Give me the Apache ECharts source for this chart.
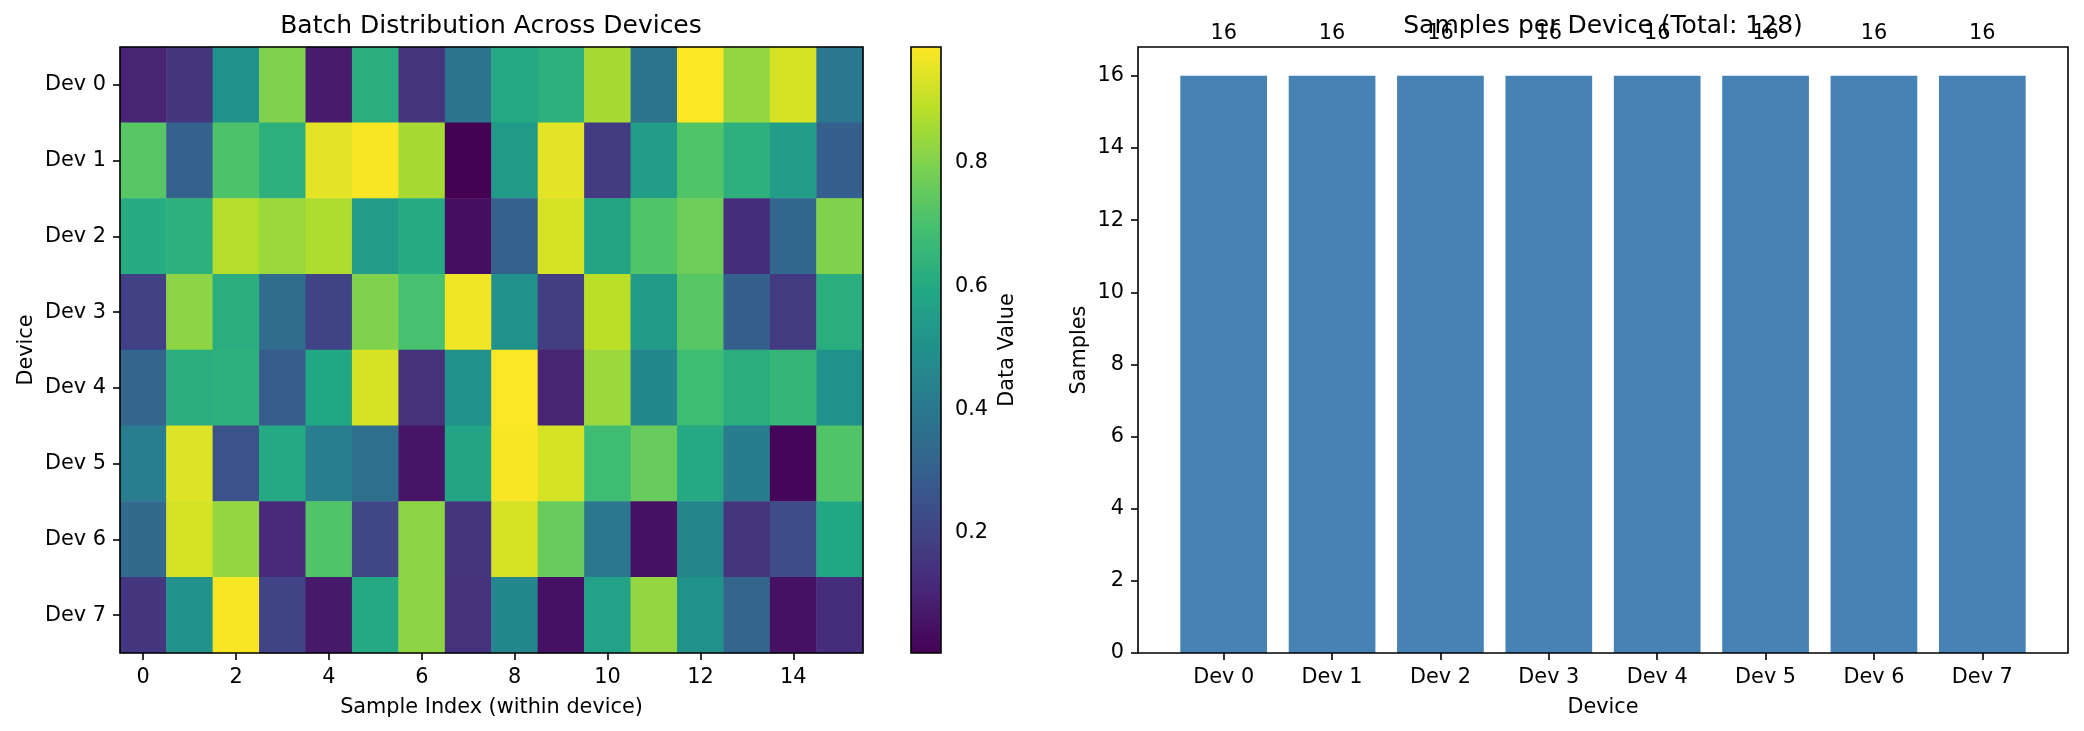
<!DOCTYPE html>
<html>
<head>
<meta charset="utf-8">
<script src="https://cdn.jsdelivr.net/npm/echarts@6/dist/echarts.min.js"></script>
<style>
html,body{margin:0;padding:0;background:#fff;}
#chart{width:2084px;height:731px;}
</style>
</head>
<body>
<div id="chart"></div>
<script>
// ---------- data ----------
const devices = ['Dev 0','Dev 1','Dev 2','Dev 3','Dev 4','Dev 5','Dev 6','Dev 7'];
const sampleIndex = ['0','1','2','3','4','5','6','7','8','9','10','11','12','13','14','15'];
const dev0 = [0.10,0.15,0.50,0.80,0.08,0.62,0.15,0.38,0.60,0.63,0.86,0.38,0.988,0.83,0.93,0.40];
const dev1 = [0.73,0.31,0.71,0.63,0.95,0.98,0.86,0.005,0.54,0.95,0.17,0.55,0.72,0.63,0.55,0.30];
const dev2 = [0.61,0.63,0.88,0.84,0.87,0.55,0.61,0.04,0.31,0.93,0.58,0.72,0.77,0.13,0.33,0.80];
const dev3 = [0.19,0.82,0.62,0.35,0.20,0.80,0.70,0.97,0.50,0.18,0.89,0.54,0.73,0.30,0.17,0.62];
const dev4 = [0.32,0.62,0.63,0.29,0.59,0.93,0.14,0.50,0.985,0.10,0.84,0.46,0.68,0.62,0.65,0.50];
const dev5 = [0.42,0.94,0.25,0.60,0.42,0.36,0.06,0.58,0.98,0.93,0.68,0.76,0.60,0.41,0.02,0.72];
const dev6 = [0.34,0.93,0.83,0.12,0.72,0.21,0.82,0.16,0.93,0.76,0.40,0.05,0.45,0.15,0.23,0.59];
const dev7 = [0.16,0.51,0.98,0.20,0.07,0.60,0.82,0.14,0.46,0.05,0.57,0.83,0.50,0.32,0.05,0.13];
const batchRows = [dev0,dev1,dev2,dev3,dev4,dev5,dev6,dev7];
const samplesPerDevice = [16,16,16,16,16,16,16,16];
const colorbarTicks = [0.2,0.4,0.6,0.8];
const barTicks = [0,2,4,6,8,10,12,14,16];
const valueMin = 0.005, valueMax = 0.988;

// ---------- build ----------
const viridis = ['#440154','#482576','#414487','#35608D','#2A788E','#21908C','#22A884','#43BF71','#7AD151','#BBDF27','#FDE725'];
const heatData = [];
batchRows.forEach((row, r) => row.forEach((v, c) => heatData.push([c, r, v])));
const total = samplesPerDevice.reduce((a, b) => a + b, 0);

const FONT = 'DejaVu Sans';
const FS = 20.8;
const txt = {fontFamily: FONT, fontSize: FS, color: '#000'};

const chart = echarts.init(document.getElementById('chart'), null, {renderer: 'canvas'});
chart.setOption({
  backgroundColor: '#fff',
  animation: false,
  textStyle: {fontFamily: FONT},
  title: [
    {text: 'Batch Distribution Across Devices', left: 491, top: 14, textAlign: 'center', padding: 0,
     textStyle: {fontFamily: FONT, fontSize: 25, fontWeight: 'normal', color: '#000'}},
    {text: 'Samples per Device (Total: ' + total + ')', left: 1603, top: 14, textAlign: 'center', padding: 0,
     textStyle: {fontFamily: FONT, fontSize: 25, fontWeight: 'normal', color: '#000'}}
  ],
  grid: [
    {left: 120, top: 47, width: 743, height: 606, show: true, borderColor: '#000', borderWidth: 1.6, z: 10, backgroundColor: 'transparent'},
    {left: 911, top: 47, width: 30, height: 606, show: true, borderColor: '#000', borderWidth: 1.6, z: 10, backgroundColor: 'transparent'},
    {left: 1169.5, top: 47, width: 867, height: 606},
    {left: 1138, top: 47, width: 930, height: 606, show: true, borderColor: '#000', borderWidth: 1.6, z: 10, backgroundColor: 'transparent'}
  ],
  xAxis: [
    {type: 'category', gridIndex: 0, data: sampleIndex, position: 'bottom',
     name: 'Sample Index (within device)', nameLocation: 'middle', nameGap: 44, nameTextStyle: txt,
     axisLine: {show: false},
     axisTick: {show: true, interval: 1, alignWithLabel: true, length: 7, lineStyle: {color: '#000', width: 1.6}},
     axisLabel: {interval: 1, margin: 14, ...txt},
     splitLine: {show: false}},
    {type: 'value', gridIndex: 1, show: false, min: 0, max: 1},
    {type: 'category', gridIndex: 2, data: devices,
     name: 'Device', nameLocation: 'middle', nameGap: 44, nameTextStyle: txt,
     axisLine: {show: false},
     axisTick: {show: true, alignWithLabel: true, length: 7, lineStyle: {color: '#000', width: 1.6}},
     axisLabel: {margin: 14, ...txt}},
    {type: 'value', gridIndex: 3, show: false, min: 0, max: 1}
  ],
  yAxis: [
    {type: 'category', gridIndex: 0, data: devices, inverse: true,
     name: 'Device', nameLocation: 'middle', nameGap: 83, nameRotate: 90, nameTextStyle: txt,
     axisLine: {show: false},
     axisTick: {show: true, alignWithLabel: true, length: 7, lineStyle: {color: '#000', width: 1.6}},
     axisLabel: {margin: 14, ...txt},
     splitLine: {show: false}},
    {type: 'value', gridIndex: 1, position: 'right', min: valueMin, max: valueMax,
     name: 'Data Value', nameLocation: 'middle', nameGap: 56, nameRotate: 90, nameTextStyle: txt,
     axisLine: {show: false},
     axisTick: {show: true, length: 7, customValues: colorbarTicks, lineStyle: {color: '#000', width: 1.6}},
     axisLabel: {margin: 14, customValues: colorbarTicks, formatter: v => v.toFixed(1), ...txt},
     splitLine: {show: false}},
    {type: 'value', gridIndex: 2, min: 0, max: 16.8, offset: 31.5,
     name: 'Samples', nameLocation: 'middle', nameGap: 48, nameRotate: 90, nameTextStyle: txt,
     axisLine: {show: false},
     axisTick: {show: true, length: 7, customValues: barTicks, lineStyle: {color: '#000', width: 1.6}},
     axisLabel: {margin: 14, customValues: barTicks, ...txt},
     splitLine: {show: false}},
    {type: 'value', gridIndex: 3, show: false, min: 0, max: 1}
  ],
  visualMap: {
    type: 'continuous', seriesIndex: 0, dimension: 2, min: valueMin, max: valueMax,
    calculable: false, orient: 'vertical', left: 911, top: 47, itemWidth: 30, itemHeight: 606,
    padding: 0, text: null, inRange: {color: viridis}, z: 5
  },
  series: [
    {type: 'heatmap', xAxisIndex: 0, yAxisIndex: 0, data: heatData, itemStyle: {borderWidth: 0}},
    {type: 'bar', xAxisIndex: 2, yAxisIndex: 2, data: samplesPerDevice, barWidth: '80%',
     itemStyle: {color: '#4682B4'},
     label: {show: true, position: 'top', distance: 32, ...txt}}
  ]
});
</script>
</body>
</html>
